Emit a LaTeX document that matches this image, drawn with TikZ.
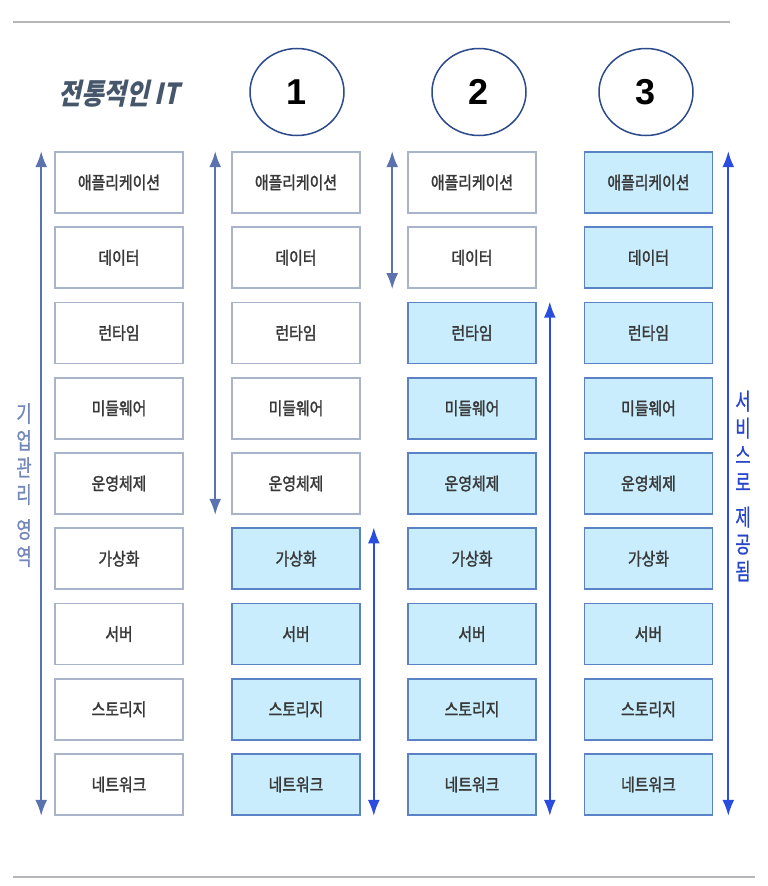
\documentclass[tikz,border=0pt]{standalone}
\usepackage{fontspec}
\usepackage{xcolor}
\usetikzlibrary{shapes.geometric,arrows.meta}
\setmainfont{Noto Sans CJK KR}
\newfontfamily\krBox[FakeStretch=0.85,FakeBold=1.6]{Noto Sans CJK KR}
\newfontfamily\krTitle[FakeStretch=0.85,FakeSlant=0.22]{Noto Sans CJK KR}
\newfontfamily\krSide[FakeStretch=0.72,FakeBold=0.8]{Noto Sans CJK KR}
\newfontfamily\numFont{Liberation Sans}
\definecolor{ruleGray}{HTML}{B4B6BA}
\definecolor{titleSlate}{HTML}{46566B}
\definecolor{boxText}{HTML}{383838}
\definecolor{ownEdge}{HTML}{A9B3C9}
\definecolor{svcFill}{HTML}{C9EDFC}
\definecolor{svcEdge}{HTML}{5C82C6}
\definecolor{ownArrow}{HTML}{5A72AE}
\definecolor{svcArrow}{HTML}{2A4DE0}
\definecolor{circleEdge}{HTML}{2C4A8C}
\tikzset{
  layerbox/.style={draw=ownEdge, line width=1.6pt, fill=white, minimum width=128pt, minimum height=61pt, inner sep=0pt, text=boxText, font=\krBox\fontsize{17.5}{17.5}\selectfont},
  svcbox/.style={layerbox, draw=svcEdge, fill=svcFill},
  numcircle/.style={ellipse, draw=circleEdge, line width=1.5pt, minimum width=94pt, minimum height=87pt, inner sep=0pt, font=\numFont\bfseries\fontsize{36}{36}\selectfont},
  ownarrow/.style={draw=ownArrow, line width=1.8pt, {Latex[length=16pt,width=12pt]}-{Latex[length=16pt,width=12pt]}},
  svcarrow/.style={ownarrow, draw=svcArrow},
  sidetext/.style={align=center, inner sep=0pt, font=\krSide\fontsize{23}{27}\selectfont}
}

\begin{document}
\begin{tikzpicture}[x=1pt,y=-1pt]
\useasboundingbox (0,0) rectangle (768,886);
\fill[white] (0,0) rectangle (768,886);
\draw[ruleGray, line width=2.4pt] (13,22) -- (730,22);
\draw[ruleGray, line width=2.4pt] (13,877) -- (755,877);
\node[text=titleSlate, inner sep=0pt, font=\krTitle\bfseries\fontsize{29}{29}\selectfont] (title) at (119,94) {전통적인 IT};
\node[numcircle] (num1) at (297,92) {1};
\node[numcircle] (num2) at (479,92) {2};
\node[numcircle] (num3) at (646,92) {3};
% traditional IT
\node[layerbox] (c0r0) at (119,182.5) {애플리케이션};
\node[layerbox] (c0r1) at (119,257.75) {데이터};
\node[layerbox] (c0r2) at (119,333) {런타임};
\node[layerbox] (c0r3) at (119,408.25) {미들웨어};
\node[layerbox] (c0r4) at (119,483.5) {운영체제};
\node[layerbox] (c0r5) at (119,558.75) {가상화};
\node[layerbox] (c0r6) at (119,634) {서버};
\node[layerbox] (c0r7) at (119,709.25) {스토리지};
\node[layerbox] (c0r8) at (119,784.5) {네트워크};
% 1
\node[layerbox] (c1r0) at (296,182.5) {애플리케이션};
\node[layerbox] (c1r1) at (296,257.75) {데이터};
\node[layerbox] (c1r2) at (296,333) {런타임};
\node[layerbox] (c1r3) at (296,408.25) {미들웨어};
\node[layerbox] (c1r4) at (296,483.5) {운영체제};
\node[svcbox] (c1r5) at (296,558.75) {가상화};
\node[svcbox] (c1r6) at (296,634) {서버};
\node[svcbox] (c1r7) at (296,709.25) {스토리지};
\node[svcbox] (c1r8) at (296,784.5) {네트워크};
% 2
\node[layerbox] (c2r0) at (472,182.5) {애플리케이션};
\node[layerbox] (c2r1) at (472,257.75) {데이터};
\node[svcbox] (c2r2) at (472,333) {런타임};
\node[svcbox] (c2r3) at (472,408.25) {미들웨어};
\node[svcbox] (c2r4) at (472,483.5) {운영체제};
\node[svcbox] (c2r5) at (472,558.75) {가상화};
\node[svcbox] (c2r6) at (472,634) {서버};
\node[svcbox] (c2r7) at (472,709.25) {스토리지};
\node[svcbox] (c2r8) at (472,784.5) {네트워크};
% 3
\node[svcbox] (c3r0) at (648.5,182.5) {애플리케이션};
\node[svcbox] (c3r1) at (648.5,257.75) {데이터};
\node[svcbox] (c3r2) at (648.5,333) {런타임};
\node[svcbox] (c3r3) at (648.5,408.25) {미들웨어};
\node[svcbox] (c3r4) at (648.5,483.5) {운영체제};
\node[svcbox] (c3r5) at (648.5,558.75) {가상화};
\node[svcbox] (c3r6) at (648.5,634) {서버};
\node[svcbox] (c3r7) at (648.5,709.25) {스토리지};
\node[svcbox] (c3r8) at (648.5,784.5) {네트워크};
% arrows
\draw[ownarrow] ([xshift=-13pt]c0r0.north west) -- ([xshift=-13pt]c0r8.south west);
\draw[ownarrow] ([xshift=-16pt]c1r0.north west) -- ([xshift=-16pt]c1r4.south west);
\draw[svcarrow] ([xshift=13pt]c1r5.north east) -- ([xshift=13pt]c1r8.south east);
\draw[ownarrow] ([xshift=-15pt]c2r0.north west) -- ([xshift=-15pt]c2r1.south west);
\draw[svcarrow] ([xshift=13pt]c2r2.north east) -- ([xshift=13pt]c2r8.south east);
\draw[svcarrow] ([xshift=15pt]c3r0.north east) -- ([xshift=15pt]c3r8.south east);
\node[sidetext, text=ownArrow!85] (ownlabel) at (24,485) {기\\업\\관\\리\\[8pt]영\\역};
\node[sidetext, text=svcArrow!90!black] (svclabel) at (743,486) {서\\비\\스\\로\\[8pt]제\\공\\됨};
\end{tikzpicture}
\end{document}
